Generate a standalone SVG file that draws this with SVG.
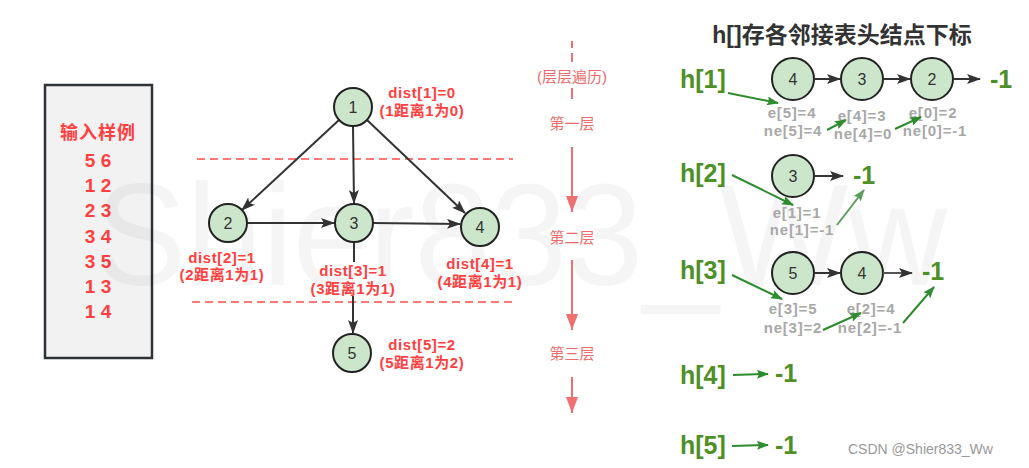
<svg xmlns="http://www.w3.org/2000/svg" width="1029" height="468" viewBox="0 0 1029 468">
<defs>
<style>
.bg{fill:#ffffff}
.box{fill:#f2f2f2;stroke:#2e3338;stroke-width:2.5}
.wm{font-family:"Liberation Sans",sans-serif;font-size:145px;fill:#000;fill-opacity:0.04}
.inp{font-family:"Liberation Sans","Noto Sans CJK SC",sans-serif;font-weight:bold;fill:#ff4040;text-anchor:middle;dominant-baseline:central}
.node circle{fill:#cce6cc;stroke:#222;stroke-width:2}
.node text{font-family:"Liberation Sans",sans-serif;font-size:16px;fill:#333;text-anchor:middle;dominant-baseline:central}
.dist{font-family:"Liberation Sans","Noto Sans CJK SC",sans-serif;font-weight:bold;font-size:15px;fill:#ff4040;text-anchor:middle;dominant-baseline:central;letter-spacing:0.6px}
.edge{fill:none;stroke:#333;stroke-width:2;marker-end:url(#ah)}
.dash{fill:none;stroke:#ff4d4d;stroke-width:1.5;stroke-dasharray:8 5}
.sal{fill:none;stroke:#ef7070;stroke-width:2}
.salt{font-family:"Liberation Sans","Noto Sans CJK SC",sans-serif;font-size:15px;fill:#ec6b6b;text-anchor:middle;dominant-baseline:central}
.title{font-family:"Liberation Sans","Noto Sans CJK SC",sans-serif;font-weight:bold;font-size:23px;fill:#333;text-anchor:middle;dominant-baseline:central}
.hl{font-family:"Liberation Sans",sans-serif;font-weight:bold;font-size:25px;fill:#4f8f28;dominant-baseline:central}
.gl{font-family:"Liberation Sans",sans-serif;font-weight:bold;font-size:15px;fill:#a8a8a8;text-anchor:middle;dominant-baseline:central;letter-spacing:0.8px}
.garr{fill:none;stroke:#2e8b2e;stroke-width:2;marker-end:url(#gh)}
.garr2{fill:none;stroke:#5aa05a;stroke-width:2;marker-end:url(#gh2)}
.darr{fill:none;stroke:#333;stroke-width:2;marker-end:url(#ah)}
.csdn{font-family:"Liberation Sans",sans-serif;font-size:14px;fill:#999}
</style>
<marker id="ah" markerUnits="userSpaceOnUse" viewBox="0 0 14 10" refX="13" refY="5" markerWidth="14" markerHeight="10" orient="auto">
<path d="M0,0 L14,5 L0,10 L3,5 z" fill="#333"/>
</marker>
<marker id="sh" markerUnits="userSpaceOnUse" viewBox="0 0 12 16" refX="6" refY="16" markerWidth="12" markerHeight="16" orient="0">
<path d="M0,0 L12,0 L6,16 z" fill="#ef7070"/>
</marker>
<marker id="gh" markerUnits="userSpaceOnUse" viewBox="0 0 12 9" refX="11" refY="4.5" markerWidth="12" markerHeight="9" orient="auto">
<path d="M0,0 L12,4.5 L0,9 L2,4.5 z" fill="#2e8b2e"/>
</marker>
<marker id="gh2" markerUnits="userSpaceOnUse" viewBox="0 0 12 9" refX="11" refY="4.5" markerWidth="12" markerHeight="9" orient="auto">
<path d="M0,0 L12,4.5 L0,9 L2,4.5 z" fill="#5aa05a"/>
</marker>
</defs>
<rect class="bg" x="0" y="0" width="1029" height="468"/>

<g id="input-box">
<rect class="box" x="45" y="85" width="107" height="273"/>
<text class="inp" x="98" y="133" font-size="18" letter-spacing="1">输入样例</text>
<text class="inp" x="98" y="160" font-size="19">5 6</text>
<text class="inp" x="98" y="185" font-size="19">1 2</text>
<text class="inp" x="98" y="210" font-size="19">2 3</text>
<text class="inp" x="98" y="236" font-size="19">3 4</text>
<text class="inp" x="98" y="261" font-size="19">3 5</text>
<text class="inp" x="98" y="286" font-size="19">1 3</text>
<text class="inp" x="98" y="311" font-size="19">1 4</text>
</g>

<text class="wm" x="95" y="285" textLength="852" lengthAdjust="spacingAndGlyphs">Shier833_Ww</text>

<g id="layer-lines">
<line class="dash" x1="197" y1="159" x2="513" y2="159"/>
<line class="dash" x1="192" y1="302" x2="513" y2="302"/>
</g>

<g id="connectors">
<path class="edge" d="M339,120 L242,210"/>
<path class="edge" d="M353,126 L354,203"/>
<path class="edge" d="M367,120 L465,213"/>
<path class="edge" d="M247,223 L334,223"/>
<path class="edge" d="M373,223 L460,224"/>
<path class="edge" d="M354,242 L354,262 M353,296 L353,333"/>
</g>

<g id="node-1" class="node"><circle cx="353" cy="107" r="19"/><text x="353" y="107">1</text></g>
<g id="node-2" class="node"><circle cx="228" cy="223" r="19"/><text x="228" y="223">2</text></g>
<g id="node-3" class="node"><circle cx="354" cy="223" r="19"/><text x="354" y="223">3</text></g>
<g id="node-4" class="node"><circle cx="480" cy="227" r="19"/><text x="480" y="227">4</text></g>
<g id="node-5" class="node"><circle cx="352" cy="353" r="19"/><text x="352" y="353">5</text></g>

<g id="dist-labels">
<text class="dist" x="422" y="92">dist[1]=0</text>
<text class="dist" x="422" y="110">(1距离1为0)</text>
<text class="dist" x="222" y="257">dist[2]=1</text>
<text class="dist" x="222" y="274">(2距离1为1)</text>
<text class="dist" x="353" y="270">dist[3]=1</text>
<text class="dist" x="353" y="288">(3距离1为1)</text>
<text class="dist" x="480" y="263">dist[4]=1</text>
<text class="dist" x="480" y="281">(4距离1为1)</text>
<text class="dist" x="422" y="344">dist[5]=2</text>
<text class="dist" x="422" y="362">(5距离1为2)</text>
</g>

<g id="levels">
<line class="sal" x1="572" y1="41" x2="572" y2="48"/>
<line class="sal" x1="572" y1="53" x2="572" y2="62"/>
<text class="salt" x="572" y="76">(层层遍历)</text>
<line class="sal" x1="572" y1="88" x2="572" y2="99"/>
<text class="salt" x="572" y="123">第一层</text>
<line class="sal" x1="572" y1="147" x2="572" y2="212" marker-end="url(#sh)"/>
<text class="salt" x="572" y="237">第二层</text>
<line class="sal" x1="572" y1="260" x2="572" y2="330" marker-end="url(#sh)"/>
<text class="salt" x="572" y="353">第三层</text>
<line class="sal" x1="572" y1="377" x2="572" y2="413" marker-end="url(#sh)"/>
</g>

<text class="title" x="842" y="35">h[]存各邻接表头结点下标</text>

<g id="row-h1">
<text class="hl" x="680" y="79">h[1]</text>
<g id="r1-n4" class="node"><circle cx="793" cy="79" r="21"/><text x="793" y="79">4</text></g>
<g id="r1-n3" class="node"><circle cx="862" cy="79" r="21"/><text x="862" y="79">3</text></g>
<g id="r1-n2" class="node"><circle cx="932" cy="79" r="21"/><text x="932" y="79">2</text></g>
<text class="hl" x="990" y="79">-1</text>
<text class="gl" x="792" y="112">e[5]=4</text>
<text class="gl" x="793" y="130">ne[5]=4</text>
<text class="gl" x="862" y="115">e[4]=3</text>
<text class="gl" x="863" y="133">ne[4]=0</text>
<text class="gl" x="933" y="112">e[0]=2</text>
<text class="gl" x="935" y="130">ne[0]=-1</text>
</g>

<g id="row-h2">
<text class="hl" x="680" y="173">h[2]</text>
<g id="r2-n3" class="node"><circle cx="793" cy="176" r="21"/><text x="793" y="176">3</text></g>
<text class="hl" x="853" y="175">-1</text>
<text class="gl" x="797" y="212">e[1]=1</text>
<text class="gl" x="802" y="229">ne[1]=-1</text>
</g>

<g id="row-h3">
<text class="hl" x="680" y="270">h[3]</text>
<g id="r3-n5" class="node"><circle cx="793" cy="273" r="21"/><text x="793" y="273">5</text></g>
<g id="r3-n4" class="node"><circle cx="862" cy="273" r="21"/><text x="862" y="273">4</text></g>
<text class="hl" x="922" y="271">-1</text>
<text class="gl" x="793" y="308">e[3]=5</text>
<text class="gl" x="793" y="327">ne[3]=2</text>
<text class="gl" x="871" y="308">e[2]=4</text>
<text class="gl" x="870" y="327">ne[2]=-1</text>
</g>

<g id="row-h4">
<text class="hl" x="680" y="375">h[4]</text>
<text class="hl" x="775" y="373">-1</text>
</g>

<g id="row-h5">
<text class="hl" x="680" y="445">h[5]</text>
<text class="hl" x="775" y="445">-1</text>
</g>

<g id="list-connectors">
<path class="darr" d="M814,79 L840,79"/>
<path class="darr" d="M883,79 L910,79"/>
<path class="darr" d="M953,79 L980,79"/>
<path class="darr" d="M814,176 L843,176"/>
<path class="darr" d="M814,273 L840,273"/>
<path class="darr" d="M883,273 L912,273" style="stroke:#555"/>
<path class="garr" d="M728,93 L778,103"/>
<path class="garr" d="M827,130 L846,120"/>
<path class="garr" d="M895,129 L921,117"/>
<path class="garr" d="M732,175 L793,205"/>
<path class="garr2" d="M837,225 L864,190"/>
<path class="garr" d="M732,275 L782,299"/>
<path class="garr" d="M823,330 L861,313"/>
<path class="garr" d="M903,323 L934,287"/>
<path class="garr" d="M733,375 L768,374"/>
<path class="garr" d="M732,446 L768,445"/>
</g>

<text class="csdn" x="848" y="454">CSDN @Shier833_Ww</text>
</svg>
